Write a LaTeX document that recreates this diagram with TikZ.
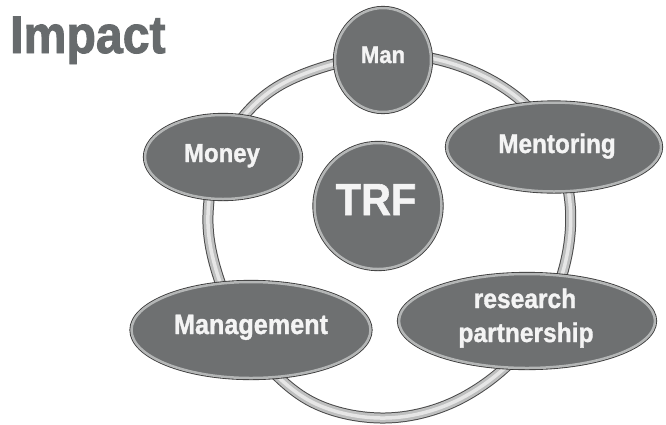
\documentclass[tikz,border=0pt]{standalone}
\usepackage{fontspec}
\setmainfont{Liberation Sans}
\newfontfamily\heavyfont[FakeBold=1.3]{Liberation Sans Bold}
\newfontfamily\titlefont[FakeBold=1.8]{Liberation Sans Bold}
\usetikzlibrary{shapes.geometric}
\definecolor{nodefill}{HTML}{6E7071}
\definecolor{rimlight}{HTML}{B4B6B6}
\definecolor{rimdark}{HTML}{3A3A3A}
\definecolor{ringlight}{HTML}{BEBFBF}
\definecolor{ringhi}{HTML}{E6E6E6}
\definecolor{ringdark}{HTML}{4A4A4A}
\definecolor{titlegray}{HTML}{676B6D}
\definecolor{lbltext}{HTML}{F4F4F4}
\newcommand{\sqz}[2]{\scalebox{#1}[1]{#2}}
\begin{document}
\begin{tikzpicture}[x=1pt,y=-1pt,
  blob/.style={ellipse, fill=nodefill, draw=rimlight, line width=2.5pt, inner sep=0pt,
     preaction={draw=rimdark, line width=4.2pt}},
  lbl/.style={text=lbltext, anchor=base, inner sep=0pt},
  lblsize/.style={font=\heavyfont\fontsize{#1}{#1}\selectfont},
  ringpath/.style={line join=round}
]
\useasboundingbox[fill=white] (0,0) rectangle (666,424);

% ring
\def\ringpts{(383,55) (470,70) (538,118) (569,195) (562,275) (522,350) (458,400) (385,418) (312,402) (256,352) (221,285) (208,215) (226,142) (282,84)}
\draw[ringpath, ringdark, line width=11pt] plot[smooth cycle, tension=0.6] coordinates {\ringpts};
\draw[ringpath, ringlight, line width=9pt] plot[smooth cycle, tension=0.6] coordinates {\ringpts};
\draw[ringpath, ringhi, line width=3.5pt] plot[smooth cycle, tension=0.6] coordinates {\ringpts};

% title
\node (title) [anchor=base west, inner sep=0pt, text=titlegray,
  font=\titlefont\fontsize{53}{53}\selectfont] at (10,53) {\sqz{0.91}{Impact}};

% nodes
\node (man) [blob, minimum width=96pt, minimum height=104pt] at (383,60) {};
\node (trf) [blob, minimum width=127pt, minimum height=126pt] at (378,206) {};
\node (money) [blob, minimum width=156pt, minimum height=84pt] at (223,157) {};
\node (mentoring) [blob, minimum width=214pt, minimum height=89pt] at (554,147) {};
\node (management) [blob, minimum width=239pt, minimum height=96pt] at (251,330) {};
\node (research) [blob, minimum width=256pt, minimum height=94pt] at (527,321) {};

% labels
\node (manl) [lbl, lblsize=24] at (383,63) {\sqz{0.92}{Man}};
\node (trfl) [lbl, lblsize=45] at (376,215) {\sqz{0.92}{TRF}};
\node (moneyl) [lbl, lblsize=26] at (222,162) {\sqz{0.92}{Money}};
\node (mentoringl) [lbl, lblsize=27] at (557,153) {\sqz{0.9}{Mentoring}};
\node (managementl) [lbl, lblsize=28] at (251,334) {\sqz{0.9}{Management}};
\node (researchl) [lbl, lblsize=27] at (525,308) {\sqz{0.91}{research}};
\node (partnershipl) [lbl, lblsize=27] at (526,342) {\sqz{0.91}{partnership}};
\end{tikzpicture}
\end{document}
